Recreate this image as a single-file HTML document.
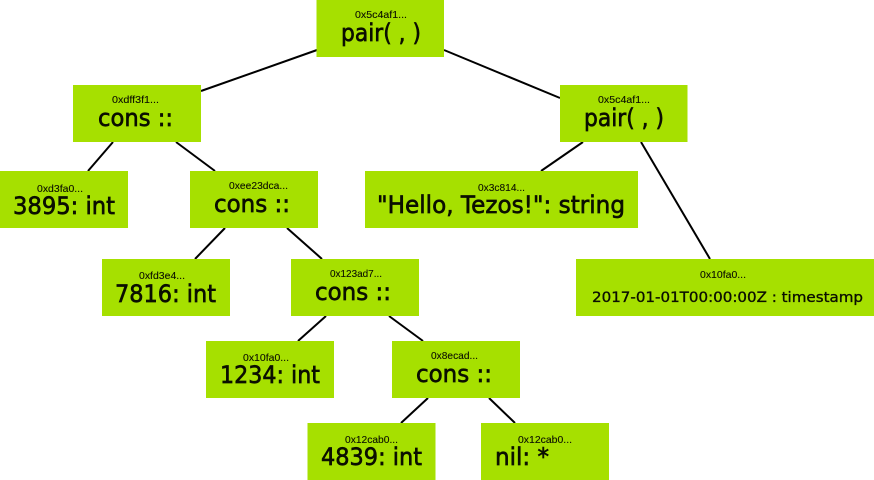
<!DOCTYPE html>
<html><head><meta charset="utf-8"><style>
html,body{margin:0;padding:0;background:#fff;width:874px;height:480px;overflow:hidden}
svg{display:block}
rect{fill:#a6e000}
line{stroke:#000;stroke-width:2}
text{font-family:"DejaVu Sans",sans-serif;fill:#0b0f00}
.s{font-family:"Liberation Sans",sans-serif;font-size:10.5px;stroke:#0b0f00;stroke-width:.1px}
.b{font-size:24px;stroke:#0b0f00;stroke-width:.65px}
.m{font-size:14.5px;stroke:#0b0f00;stroke-width:.35px}
</style></head><body>
<svg width="874" height="480" viewBox="0 0 874 480" xmlns="http://www.w3.org/2000/svg">
<line x1="317" y1="50" x2="201" y2="91"/>
<line x1="444" y1="50" x2="560" y2="98"/>
<line x1="113" y1="142" x2="88" y2="171"/>
<line x1="176" y1="142" x2="215" y2="171"/>
<line x1="225" y1="228" x2="195" y2="259"/>
<line x1="287" y1="228" x2="322" y2="259"/>
<line x1="583" y1="142" x2="541" y2="171"/>
<line x1="641" y1="142" x2="710" y2="259"/>
<line x1="326" y1="316" x2="298" y2="341"/>
<line x1="389" y1="316" x2="423" y2="341"/>
<line x1="428" y1="398" x2="401" y2="423"/>
<line x1="489" y1="398" x2="515" y2="423"/>

<rect x="316.5" y="0" width="127.5" height="57"/>
<rect x="73" y="85" width="128" height="57"/>
<rect x="560" y="85" width="127.5" height="57"/>
<rect x="0" y="171" width="128" height="57"/>
<rect x="190" y="171" width="128" height="57"/>
<rect x="365" y="171" width="273" height="57"/>
<rect x="102" y="259" width="128" height="57"/>
<rect x="291" y="259" width="128" height="57"/>
<rect x="576" y="259" width="298" height="57"/>
<rect x="206" y="341" width="128" height="57"/>
<rect x="392" y="341" width="128" height="57"/>
<rect x="307.500" y="423" width="128" height="57"/>
<rect x="481" y="423" width="128" height="57"/>

<text class="s" x="355" y="18" textLength="52" lengthAdjust="spacingAndGlyphs">0x5c4af1...</text>
<text class="b" x="341" y="41" textLength="80" lengthAdjust="spacingAndGlyphs">pair( , )</text>
<text class="s" x="112" y="103" textLength="47" lengthAdjust="spacingAndGlyphs">0xdff3f1...</text>
<text class="b" x="98" y="126" textLength="75" lengthAdjust="spacingAndGlyphs">cons ::</text>
<text class="s" x="598" y="103" textLength="52" lengthAdjust="spacingAndGlyphs">0x5c4af1...</text>
<text class="b" x="584" y="126" textLength="80" lengthAdjust="spacingAndGlyphs">pair( , )</text>
<text class="s" x="37" y="192" textLength="46" lengthAdjust="spacingAndGlyphs">0xd3fa0...</text>
<text class="b" x="13" y="214" textLength="102" lengthAdjust="spacingAndGlyphs">3895: int</text>
<text class="s" x="229" y="189" textLength="59" lengthAdjust="spacingAndGlyphs">0xee23dca...</text>
<text class="b" x="214" y="212" textLength="76" lengthAdjust="spacingAndGlyphs">cons ::</text>
<text class="s" x="478" y="191" textLength="47" lengthAdjust="spacingAndGlyphs">0x3c814...</text>
<text class="b" x="377" y="213" textLength="248" lengthAdjust="spacingAndGlyphs">"Hello, Tezos!": string</text>
<text class="s" x="139" y="279" textLength="46" lengthAdjust="spacingAndGlyphs">0xfd3e4...</text>
<text class="b" x="115" y="302" textLength="101" lengthAdjust="spacingAndGlyphs">7816: int</text>
<text class="s" x="330" y="277" textLength="52" lengthAdjust="spacingAndGlyphs">0x123ad7...</text>
<text class="b" x="315" y="300" textLength="76" lengthAdjust="spacingAndGlyphs">cons ::</text>
<text class="s" x="700" y="278" textLength="46" lengthAdjust="spacingAndGlyphs">0x10fa0...</text>
<text class="m" x="592" y="302" textLength="271" lengthAdjust="spacingAndGlyphs">2017-01-01T00:00:00Z : timestamp</text>
<text class="s" x="243" y="361" textLength="46" lengthAdjust="spacingAndGlyphs">0x10fa0...</text>
<text class="b" x="220" y="383" textLength="100" lengthAdjust="spacingAndGlyphs">1234: int</text>
<text class="s" x="431" y="359" textLength="47" lengthAdjust="spacingAndGlyphs">0x8ecad...</text>
<text class="b" x="416" y="382" textLength="76" lengthAdjust="spacingAndGlyphs">cons ::</text>
<text class="s" x="345" y="443" textLength="53" lengthAdjust="spacingAndGlyphs">0x12cab0...</text>
<text class="b" x="321" y="465" textLength="101" lengthAdjust="spacingAndGlyphs">4839: int</text>
<text class="s" x="518" y="443" textLength="54" lengthAdjust="spacingAndGlyphs">0x12cab0...</text>
<text class="b" x="495" y="465" textLength="54" lengthAdjust="spacingAndGlyphs">nil: *</text>
</svg>
</body></html>
